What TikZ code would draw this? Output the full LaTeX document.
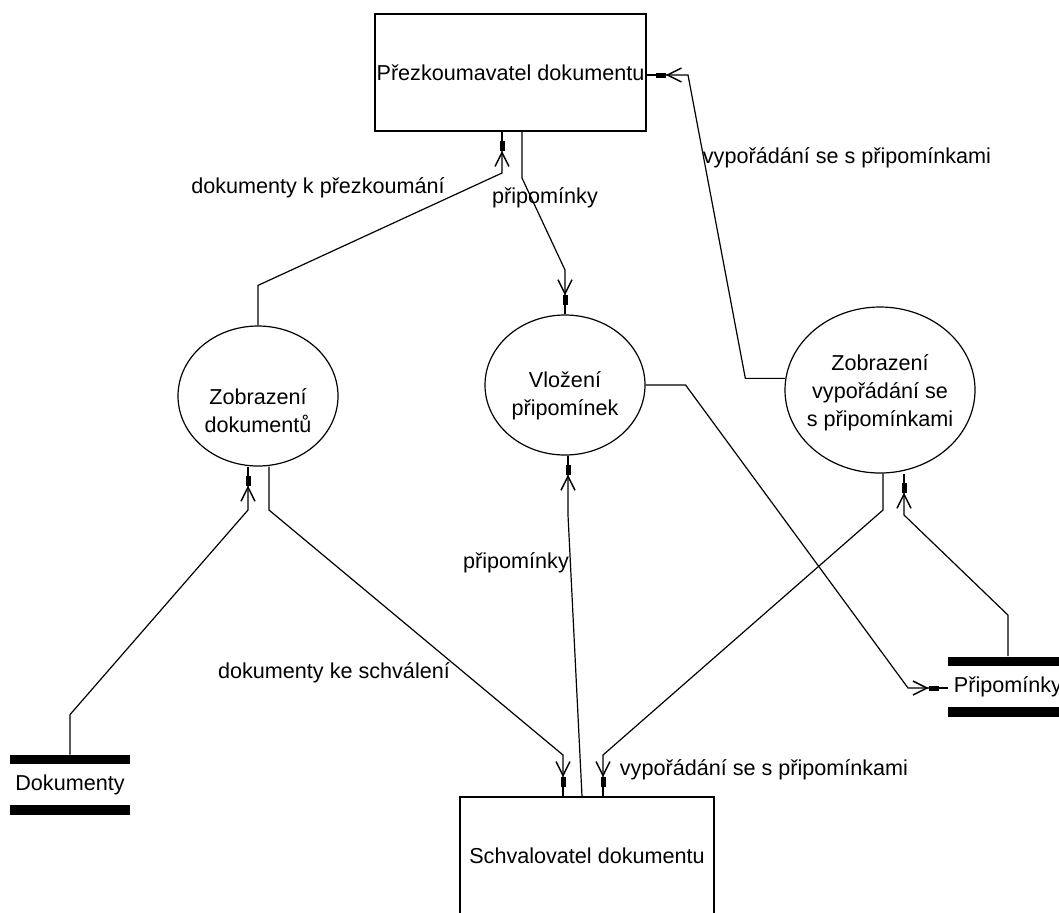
\documentclass[tikz,border=0pt]{standalone}
\usepackage{fontspec}
\setmainfont{Liberation Sans}
\usetikzlibrary{shapes.geometric,arrows.meta}

\begin{document}
\begin{tikzpicture}[x=0.5pt, y=-0.5pt, font=\fontsize{10.8}{14}\selectfont,
  term/.style={draw, line width=0.8pt, minimum width=135.5pt, minimum height=58.5pt, inner sep=0pt},
  proc/.style={draw, ellipse, line width=0.6pt, minimum width=80pt, minimum height=70pt, inner sep=0pt},
  txt/.style={align=center},
  store/.style={minimum width=60pt, minimum height=30pt, inner sep=0pt,
    path picture={
      \fill (path picture bounding box.north west) rectangle ([yshift=-4.5pt]path picture bounding box.north east);
      \fill (path picture bounding box.south west) rectangle ([yshift=5pt]path picture bounding box.south east);}},
  flow/.style={line width=0.6pt, -{Straight Barb[length=7pt,width=7pt,line width=0.75pt] Rectangle[length=5pt,width=2.5pt] Rectangle[length=4.5pt,width=0.6pt,line width=0pt]}}]
\useasboundingbox (0,0) rectangle (1059,912);

% terminators
\node (t1) [term] at (510.5,72.5) {Přezkoumavatel dokumentu};
\node (t2) [term, minimum width=127pt] at (587,855.5) {Schvalovatel dokumentu};

% processes
\node (p1) [proc, label={[txt,yshift=-7.5pt]center:Zobrazení\\dokumentů}] at (258,396) {};
\node (p2) [proc, label={[txt,yshift=-5.5pt]center:Vložení\\připomínek}] at (565,385) {};
\node (p3) [proc, minimum width=95pt, minimum height=83pt, label={[txt,yshift=-1.5pt]center:Zobrazení\\vypořádání se\\s připomínkami}] at (880,390) {};

% data stores
\node (s1) [store] at (70,785) {Dokumenty};
\node (s2) [store] at (1008,686.5) {Připomínky};

% bends
\coordinate (a1) at (502,173);
\coordinate (a2) at (522,178);
\coordinate (a3) at (565,270);
\coordinate (a4) at (688,75);
\coordinate (a6) at (248,510);
\coordinate (a7) at (269,510);
\coordinate (a8) at (563,755);
\coordinate (a9) at (568,515);
\coordinate (a10) at (582,797);
\coordinate (a11) at (883,510);
\coordinate (a12) at (603,755);
\coordinate (a13) at (904,515);
\coordinate (a14) at (908,688);

% flows
\draw[flow] (p1.north) -- ++(0,-40) -- (a1) -- (t1.south -| a1);
\draw[flow] (t1.south -| a2) -- (a2) -- (a3) -- (p2.north);
\draw[flow] (p3.173) -- ++(-40,0) -- (a4) -- (t1.east |- a4);
\draw[flow] (s1.north) -- ++(0,-40) -- (a6) -- (p1.south -| a6);
\draw[flow] (p1.south -| a7) -- (a7) -- (a8) -- (t2.north -| a8);
\draw[flow] (t2.north -| a10) -- (a9) -- (p2.south -| a9);
\draw[flow] (p3.south -| a11) -- (a11) -- (a12) -- (t2.north -| a12);
\draw[flow] (s2.north) -- ++(0,-41) -- (a13) -- (p3.south -| a13);
\draw[flow] (p2.east) -- ++(40,0) -- (a14) -- (s2.west |- a14);

% labels
\node (l1) at (318,188) {dokumenty k přezkoumání};
\node (l2) at (545,198) {připomínky};
\node (l3) at (847,158) {vypořádání se s připomínkami};
\node (l4) at (516,563) {připomínky};
\node (l5) at (334,673) {dokumenty ke schválení};
\node (l6) at (764,770) {vypořádání se s připomínkami};
\end{tikzpicture}
\end{document}
